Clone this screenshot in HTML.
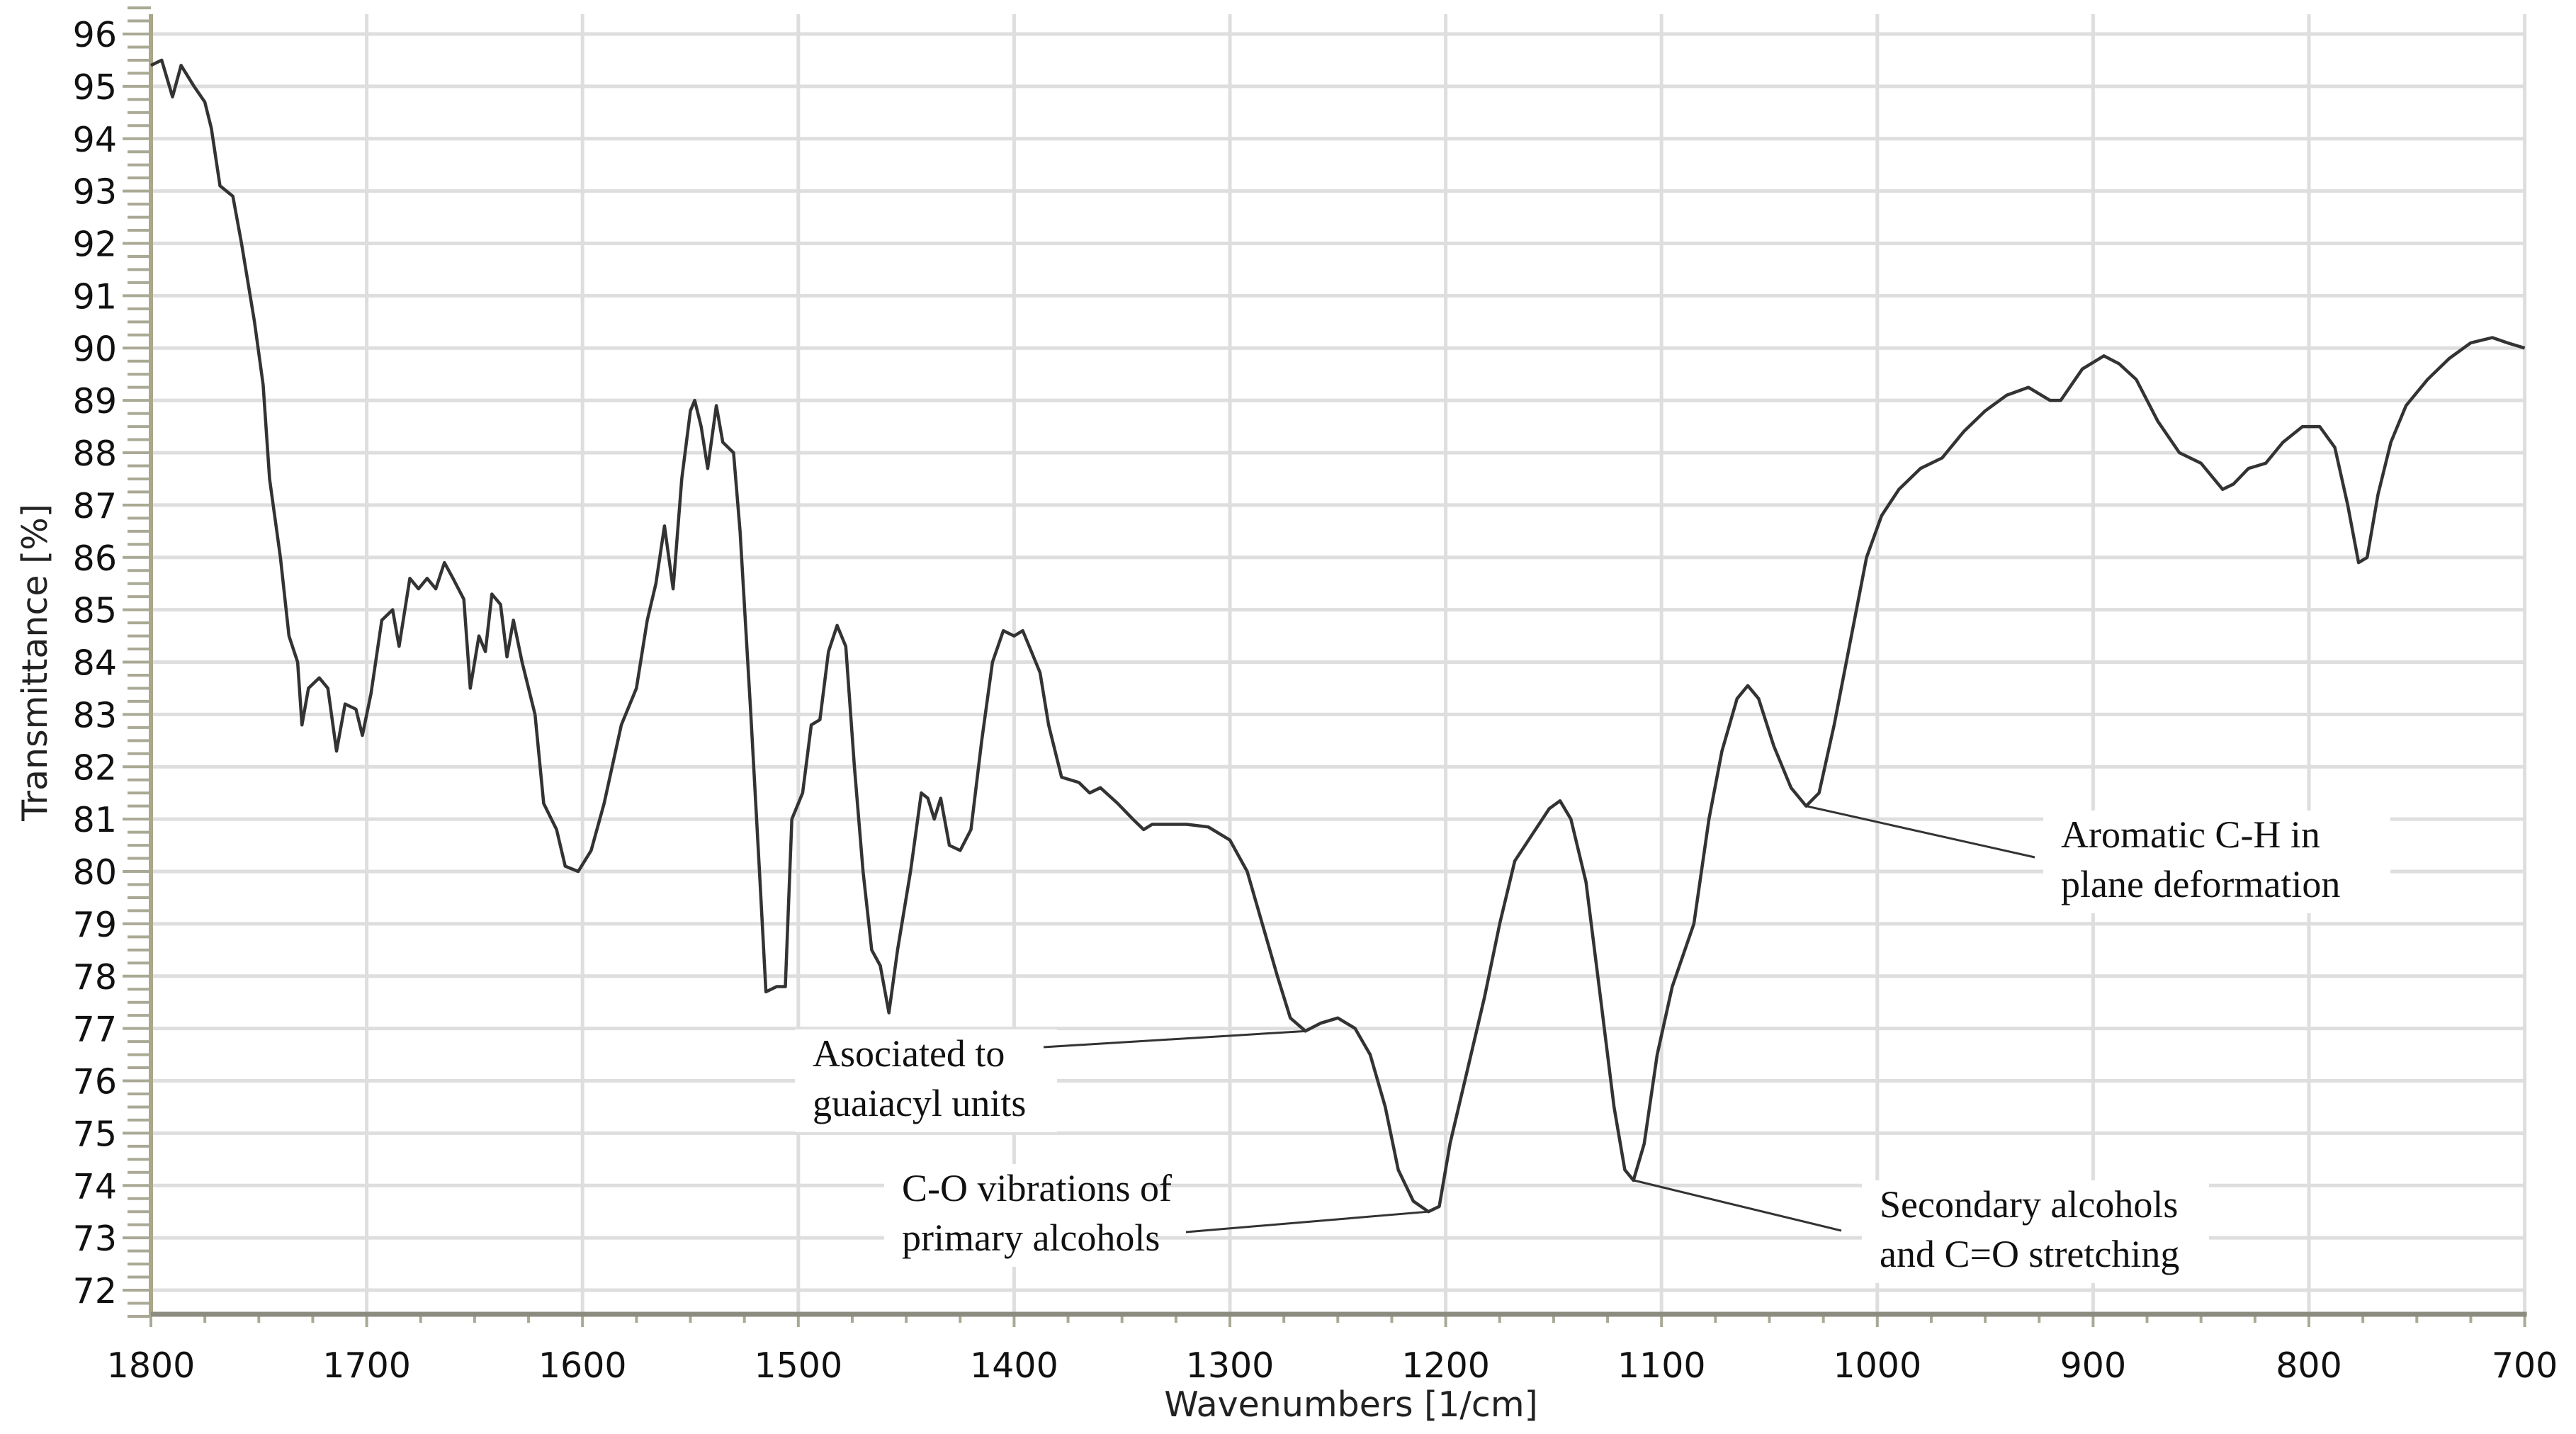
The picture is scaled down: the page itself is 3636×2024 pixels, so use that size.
<!DOCTYPE html>
<html><head><meta charset="utf-8"><style>
html,body{margin:0;padding:0;background:#fff;}
svg{display:block;}
</style></head><body>
<svg id="chart" width="3636" height="2024" xmlns="http://www.w3.org/2000/svg">
<rect width="3636" height="2024" fill="#fff"/>
<g id="grid"></g>
<g id="axes"></g>
<path id="spectrum" fill="none" stroke="#333" stroke-width="4.5" stroke-linejoin="round"/>
<g id="ann"></g>
<text transform="translate(66,935) rotate(-90)" text-anchor="middle" font-family="'DejaVu Sans','Liberation Sans',sans-serif" font-size="49" fill="#222">Transmittance [%]</text>
<text x="1907" y="1999" text-anchor="middle" font-family="'DejaVu Sans','Liberation Sans',sans-serif" font-size="49" fill="#222">Wavenumbers [1/cm]</text>
</svg>
<script>
const wavenumbers=[1800,1795,1790,1786,1780,1775,1772,1768,1762,1758,1752,1748,1745,1740,1736,1732,1730,1727,1722,1718,1714,1710,1705,1702,1698,1693,1688,1685,1680,1676,1672,1668,1664,1660,1655,1652,1648,1645,1642,1638,1635,1632,1628,1622,1618,1612,1608,1602,1596,1590,1582,1575,1570,1566,1562,1558,1554,1550,1548,1545,1542,1538,1535,1530,1527,1522,1518,1515,1510,1506,1503,1498,1494,1490,1486,1482,1478,1474,1470,1466,1462,1458,1454,1448,1443,1440,1437,1434,1430,1425,1420,1415,1410,1405,1400,1396,1392,1388,1384,1378,1370,1365,1360,1352,1345,1340,1336,1330,1320,1310,1300,1292,1285,1278,1272,1265,1258,1250,1242,1235,1228,1222,1215,1208,1203,1198,1190,1182,1175,1168,1160,1152,1147,1142,1135,1128,1122,1117,1113,1108,1102,1095,1085,1078,1072,1065,1060,1055,1048,1040,1033,1027,1020,1012,1005,998,990,980,970,960,950,940,930,920,915,905,895,888,880,870,860,850,840,835,828,820,812,803,795,788,782,777,773,768,762,755,745,735,725,715,708,700];
const transmittance=[95.4,95.5,94.8,95.4,95.0,94.7,94.2,93.1,92.9,92.0,90.5,89.3,87.5,86.0,84.5,84.0,82.8,83.5,83.7,83.5,82.3,83.2,83.1,82.6,83.4,84.8,85.0,84.3,85.6,85.4,85.6,85.4,85.9,85.6,85.2,83.5,84.5,84.2,85.3,85.1,84.1,84.8,84.0,83.0,81.3,80.8,80.1,80.0,80.4,81.3,82.8,83.5,84.8,85.5,86.6,85.4,87.5,88.8,89.0,88.5,87.7,88.9,88.2,88.0,86.5,83.0,80.0,77.7,77.8,77.8,81.0,81.5,82.8,82.9,84.2,84.7,84.3,82.0,80.0,78.5,78.2,77.3,78.5,80.0,81.5,81.4,81.0,81.4,80.5,80.4,80.8,82.5,84.0,84.6,84.5,84.6,84.2,83.8,82.8,81.8,81.7,81.5,81.6,81.3,81.0,80.8,80.9,80.9,80.9,80.85,80.6,80.0,79.0,78.0,77.2,76.95,77.1,77.2,77.0,76.5,75.5,74.3,73.7,73.5,73.6,74.8,76.2,77.6,79.0,80.2,80.7,81.2,81.35,81.0,79.8,77.5,75.5,74.3,74.1,74.8,76.5,77.8,79.0,81.0,82.3,83.3,83.55,83.3,82.4,81.6,81.25,81.5,82.8,84.5,86.0,86.8,87.3,87.7,87.9,88.4,88.8,89.1,89.25,89.0,89.0,89.6,89.85,89.7,89.4,88.6,88.0,87.8,87.3,87.4,87.7,87.8,88.2,88.5,88.5,88.1,87.0,85.9,86.0,87.2,88.2,88.9,89.4,89.8,90.1,90.2,90.1,90.0];
const yTicks=[96,95,94,93,92,91,90,89,88,87,86,85,84,83,82,81,80,79,78,77,76,75,74,73,72];
const xTicks=[1800,1700,1600,1500,1400,1300,1200,1100,1000,900,800,700];
const annTexts=[["Asociated to","guaiacyl units"],["C-O vibrations of","primary alcohols"],["Secondary alcohols","and C=O stretching"],["Aromatic C-H in","plane deformation"]];
const annPeaks=[[1265,76.95],[1208,73.5],[1113,74.1],[1033,81.25]];

const NS="http://www.w3.org/2000/svg";
const X=w=>213+(1800-w)*3.046;
const Y=v=>48+(96-v)*73.875;
function mk(tag,attrs,parent){const e=document.createElementNS(NS,tag);for(const k in attrs)e.setAttribute(k,attrs[k]);parent.appendChild(e);return e;}
const grid=document.getElementById('grid'),axes=document.getElementById('axes'),ann=document.getElementById('ann');
const X0=X(1800),X1=X(700),YB=1855;
yTicks.forEach(v=>{
  const l=mk('line',{x1:X0,x2:X1,y1:Y(v),y2:Y(v),stroke:'#dedede','stroke-width':5},grid);
  
  
  const t=mk('text',{x:165,y:Y(v)+18,'text-anchor':'end','font-family':"'DejaVu Sans','Liberation Sans',sans-serif",'font-size':49,fill:'#111'},axes);
  t.textContent=v;
  
  
});
for(let v=71.5;v<=96.5;v+=0.25){
  const major=Math.abs(v-Math.round(v))<1e-6;
  mk('line',{x1:major?173:180,x2:X0,y1:Y(v),y2:Y(v),stroke:'#a9a995','stroke-width':4},axes);
}
xTicks.forEach(w=>{
  const l=mk('line',{x1:X(w),x2:X(w),y1:20,y2:YB,stroke:'#dedede','stroke-width':5},grid);
  
  
  const t=mk('text',{x:X(w),y:1944,'text-anchor':'middle','font-family':"'DejaVu Sans','Liberation Sans',sans-serif",'font-size':49,fill:'#111'},axes);
  t.textContent=w;
  
  
});
for(let w=1800;w>=700;w-=25){
  const major=w%100===0;
  mk('line',{x1:X(w),x2:X(w),y1:YB,y2:YB+(major?18:12),stroke:'#a9a995','stroke-width':4},axes);
}
mk('line',{x1:X0,x2:X0,y1:20,y2:YB+3,stroke:'#a8a88a','stroke-width':6},axes);
mk('line',{x1:X0,x2:X1+3,y1:YB,y2:YB,stroke:'#8b8b80','stroke-width':7},axes);

let d='';
wavenumbers.forEach((w,i)=>{d+=(i?'L':'M')+X(w).toFixed(1)+','+Y(transmittance[i]).toFixed(1);});
document.getElementById('spectrum').setAttribute('d',d);

const annPos=[[1147,1505,1473,1478],[1273,1695,1674,1739],[2653,1718,2599,1737],[2909,1196,2872,1210]];
annTexts.forEach((lines,i)=>{
  const [tx,ty,lx,ly]=annPos[i];
  const r=mk('rect',{x:tx-25,y:ty-52,width:lines[1].length>16?490:370,height:145,fill:'#fff'},ann);
  
  
  const [pw,pv]=annPeaks[i];
  const ln=mk('line',{x1:lx,y1:ly,x2:X(pw),y2:Y(pv),stroke:'#333','stroke-width':3},ann);
  
  
  lines.forEach((s,j)=>{
    const t=mk('text',{x:tx,y:ty+j*70,'font-family':"'Liberation Serif',serif",'font-size':54,fill:'#111'},ann);
    t.textContent=s;
    
    
  });
});
</script>
</body></html>
